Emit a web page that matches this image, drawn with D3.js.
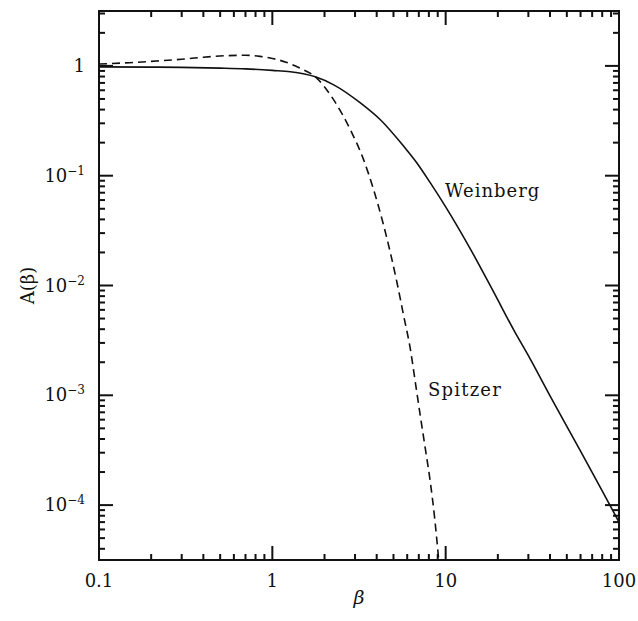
<!DOCTYPE html>
<html>
<head>
<meta charset="utf-8">
<script src="https://cdn.jsdelivr.net/npm/d3@7"></script>
<style>
  html, body { margin: 0; padding: 0; background: #fff; }
  svg { display: block; }
  text { font-family: "DejaVu Serif", "Liberation Serif", serif; fill: #111; }
</style>
</head>
<body>
<svg id="chart" width="638" height="621"></svg>
<script>
// ---- data ----
const weinbergBeta = [0.1, 0.2, 0.3, 0.5, 0.7, 1.0, 1.27, 1.77, 2.26, 3.22, 4.2, 5.73, 6.84, 8.16, 10, 14, 19, 25, 30, 40, 60, 80, 100];
const weinbergA    = [0.98, 0.975, 0.97, 0.955, 0.94, 0.91, 0.885, 0.795, 0.672, 0.46, 0.323, 0.185, 0.130, 0.086, 0.052, 0.021, 0.0086, 0.0038, 0.0023, 0.00099, 0.00031, 0.000135, 0.00007];

const spitzerBeta = [0.1, 0.15, 0.2, 0.3, 0.4, 0.55, 0.7, 0.85, 1.0, 1.2, 1.45, 1.77, 2.26, 2.82, 3.36, 3.84, 4.30, 4.80, 5.24, 5.73, 6.26, 6.69, 7.14, 7.64, 8.16, 8.61, 8.92, 9.3];
const spitzerA    = [1.04, 1.07, 1.1, 1.15, 1.2, 1.24, 1.25, 1.22, 1.17, 1.08, 0.95, 0.795, 0.49, 0.262, 0.140, 0.0746, 0.0398, 0.0198, 0.0106, 0.00526, 0.00262, 0.0013, 0.00065, 0.000323, 0.000161, 0.00008, 0.000046, 0.000022];

const xTickValues = [0.1, 1, 10, 100];
const xTickLabels = ["0.1", "1", "10", "100"];
const yTickValues = [1, 0.1, 0.01, 0.001, 0.0001];
const yTickBase   = ["1", "10", "10", "10", "10"];
const yTickExp    = ["", "\u22121", "\u22122", "\u22123", "\u22124"];

const xMinor = [0.2, 0.3, 0.4, 0.5, 0.6, 0.7, 0.8, 0.9, 2, 3, 4, 5, 6, 7, 8, 9, 20, 30, 40, 50, 60, 70, 80, 90];
const yMinor = [0.00004, 0.00005, 0.00006, 0.00007, 0.00008, 0.00009,
  0.0002, 0.0003, 0.0004, 0.0005, 0.0006, 0.0007, 0.0008, 0.0009,
  0.002, 0.003, 0.004, 0.005, 0.006, 0.007, 0.008, 0.009,
  0.02, 0.03, 0.04, 0.05, 0.06, 0.07, 0.08, 0.09,
  0.2, 0.3, 0.4, 0.5, 0.6, 0.7, 0.8, 0.9, 2, 3];

const seriesNames = ["Weinberg", "Spitzer"];
const xTitle = "\u03B2";
const yTitle = "A(\u03B2)";

// ---- layout ----
const svg = d3.select("#chart");
const L = 99, R = 619, T = 11, B = 560;
const x = d3.scaleLog().domain([0.1, 100]).range([L, R]);
const y = d3.scaleLog().domain([Math.pow(10, -4.5), Math.pow(10, 0.5)]).range([B, T]);

const MAJ = 14, MIN = 6;
const tg = svg.append("g");
function addX(vals, len) {
  tg.selectAll(null).data(vals).enter().append("line")
    .attr("x1", d => x(d)).attr("x2", d => x(d)).attr("y1", B).attr("y2", B - len)
    .style("stroke", "#111").style("stroke-width", "2px");
  tg.selectAll(null).data(vals).enter().append("line")
    .attr("x1", d => x(d)).attr("x2", d => x(d)).attr("y1", T).attr("y2", T + len)
    .style("stroke", "#111").style("stroke-width", "2px");
}
function addY(vals, len) {
  tg.selectAll(null).data(vals).enter().append("line")
    .attr("y1", d => y(d)).attr("y2", d => y(d)).attr("x1", L).attr("x2", L + len)
    .style("stroke", "#111").style("stroke-width", "2px");
  tg.selectAll(null).data(vals).enter().append("line")
    .attr("y1", d => y(d)).attr("y2", d => y(d)).attr("x1", R).attr("x2", R - len)
    .style("stroke", "#111").style("stroke-width", "2px");
}
addX(xTickValues, MAJ);
addX(xMinor, MIN);
addY(yTickValues, MAJ);
addY(yMinor, MIN);

// frame
svg.append("rect").attr("x", L).attr("y", T).attr("width", R - L).attr("height", B - T)
  .attr("fill", "none").attr("stroke", "#111").attr("stroke-width", 2);

// clip
svg.append("clipPath").attr("id", "clip").append("rect")
  .attr("x", L).attr("y", T).attr("width", R - L).attr("height", B - T);

const line = d3.line().x(d => x(d[0])).y(d => y(d[1])).curve(d3.curveMonotoneX);
const wData = weinbergBeta.map((b, i) => [b, weinbergA[i]]);
const sData = spitzerBeta.map((b, i) => [b, spitzerA[i]]);

svg.append("path").datum(wData).attr("clip-path", "url(#clip)")
  .attr("d", line).attr("fill", "none").attr("stroke", "#111").attr("stroke-width", 1.6);
svg.append("path").datum(sData).attr("clip-path", "url(#clip)")
  .attr("d", line).attr("fill", "none").attr("stroke", "#111").attr("stroke-width", 1.6)
  .attr("stroke-dasharray", "8,5");

// x tick labels
svg.selectAll(".xl").data(xTickValues).enter().append("text")
  .attr("x", d => x(d)).attr("y", 587).attr("text-anchor", "middle")
  .attr("font-size", 18).text((d, i) => xTickLabels[i]);

// y tick labels
yTickValues.forEach((v, i) => {
  const t = svg.append("text").attr("x", 85).attr("y", y(v) + 6)
    .attr("text-anchor", "end").attr("font-size", 18);
  t.append("tspan").text(yTickBase[i]);
  if (yTickExp[i]) {
    t.append("tspan").attr("font-size", 12).attr("dy", -7).text(yTickExp[i]);
  }
});

// axis titles
svg.append("text").attr("x", (L + R) / 2).attr("y", 604).attr("text-anchor", "middle")
  .attr("font-size", 19).attr("font-style", "italic").text(xTitle);
svg.append("text").attr("transform", `translate(34,${(T + B) / 2}) rotate(-90)`)
  .attr("text-anchor", "middle").attr("font-size", 18).text(yTitle);

// curve labels
svg.append("text").attr("x", 445).attr("y", 197).attr("font-size", 18)
  .attr("letter-spacing", 1).text(seriesNames[0]);
svg.append("text").attr("x", 428).attr("y", 396).attr("font-size", 18)
  .attr("letter-spacing", 1.2).text(seriesNames[1]);
</script>
</body>
</html>
